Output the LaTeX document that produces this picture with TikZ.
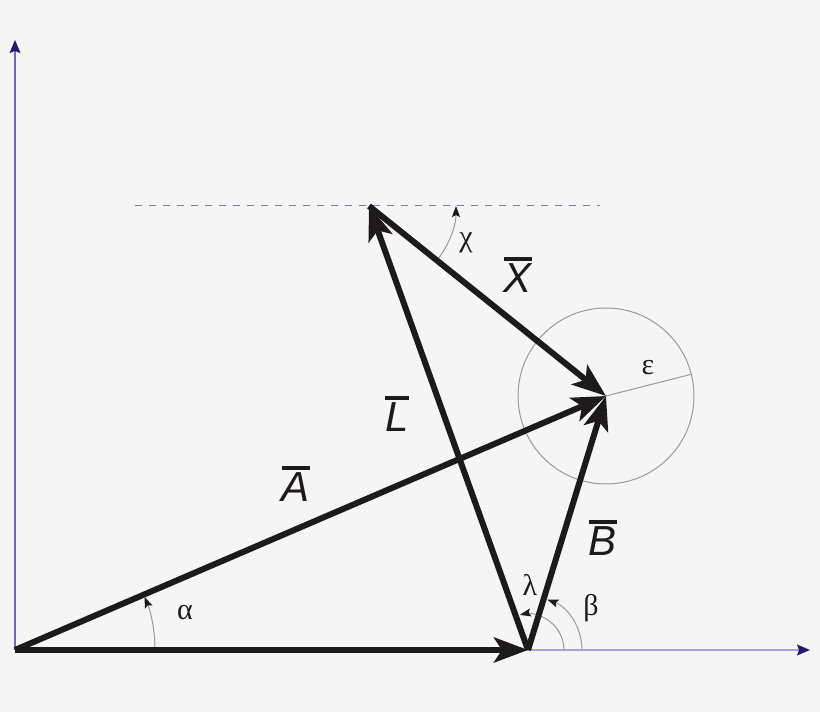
\documentclass[tikz,border=0pt]{standalone}
\usepackage{fontspec}
\setmainfont{Liberation Sans}
\newfontfamily\grk{Liberation Serif}
\usetikzlibrary{arrows.meta,calc}
\definecolor{bgc}{HTML}{F5F5F5}
\definecolor{vecc}{HTML}{1C1A1A}
\definecolor{axc}{HTML}{7A62C9}
\definecolor{axlight}{HTML}{ABA0D2}
\definecolor{axhead}{HTML}{2C1670}
\definecolor{arcc}{HTML}{9A9A9A}
\definecolor{dashc}{HTML}{8078B8}
\newcommand\vlab[1]{\setbox0\hbox{\itshape #1}\vbox{\hrule height 3.5pt width \wd0 \kern 3pt \box0}}
\tikzset{
  vec/.style={draw=vecc,line width=6pt,-{Stealth[length=34pt,width=25pt,inset=8pt]}},
  thinarc/.style={draw=arcc,line width=1pt,-{Stealth[length=11pt,width=8pt,inset=2pt,color=vecc,fill=vecc]}},
  axis/.style={line width=1.2pt,-{Stealth[length=13pt,width=11pt,inset=2pt,color=axhead,fill=axhead]}},
  veclab/.style={font=\fontsize{42}{42}\selectfont,inner sep=0pt,text=vecc},
  grklab/.style={font=\fontsize{30}{30}\selectfont\grk,inner sep=0pt,text=vecc},
}
\begin{document}
\begin{tikzpicture}[x=1pt,y=1pt]
\fill[bgc] (0,0) rectangle (820,712);
\useasboundingbox (0,0) rectangle (820,712);
\coordinate (O) at (15,62);
\coordinate (P) at (528,62);
\coordinate (Q) at (606,316);
\coordinate (R) at (369,506);
\coordinate (Ytop) at (15,672);
\coordinate (Xend) at (810,62);
\coordinate (Dl) at (135,506);
\coordinate (Dr) at (600,506);
\coordinate (Eps) at (691.3,337.7);
% axes
\draw[axis,draw=axc] (O) -- (Ytop);
\draw[axis,draw=axlight] (P) -- (Xend);
% dashed line
\draw[dashc,line width=1pt,dash pattern=on 7pt off 7pt] (Dl) -- (Dr);
% circle and radius
\draw[arcc,line width=1pt] (Q) circle[radius=88];
\draw[arcc,line width=1pt] (Q) -- (Eps);
% angle arcs
\draw[thinarc] ($(O)+(140,0)$) arc[start angle=0,end angle=22.3,radius=140];
\draw[thinarc] ($(P)+(54,0)$) arc[start angle=0,end angle=69,radius=54];
\draw[thinarc] ($(P)+(36,0)$) arc[start angle=0,end angle=103,radius=36];
\draw[thinarc] ($(R)+(-38.7:87)$) arc[start angle=-38.7,end angle=0,radius=87];
% vectors
\draw[vec] (O) -- (P);
\draw[vec] (O) -- (Q);
\draw[vec] (P) -- (Q);
\draw[vec] (P) -- (R);
\draw[vec] (R) -- (Q);
% labels
\node[veclab] (lA) at (296,228) {\vlab{A}};
\node[veclab] (lL) at (397,298) {\vlab{L}};
\node[veclab] (lX) at (518,437) {\vlab{X}};
\node[veclab] (lB) at (603,174) {\vlab{B}};
\node[grklab] (la) at (185,99) {α};
\node[grklab] (lb) at (591,104) {β};
\node[grklab] (ll) at (530,127) {λ};
\node[grklab] (lc) at (466,469) {χ};
\node[grklab] (le) at (648,344) {ε};
\end{tikzpicture}
\end{document}
